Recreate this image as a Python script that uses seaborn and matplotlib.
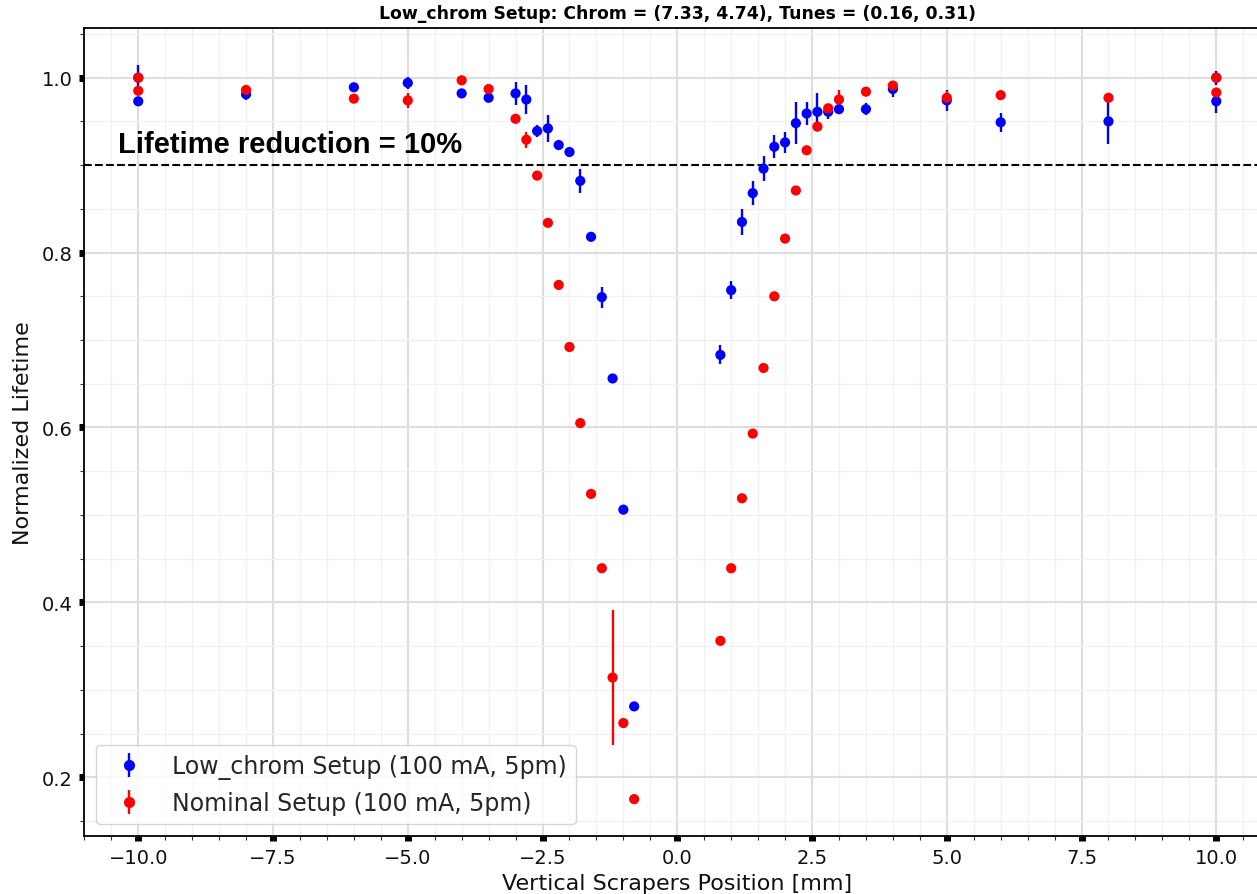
import numpy as np
import pandas as pd
import matplotlib
matplotlib.use("Agg")
import matplotlib.pyplot as plt
from matplotlib.ticker import MultipleLocator
import seaborn as sns

# Scraper positions [mm] (same scan grid for both setups; +/-10 mm measured twice)
positions = [-10, -10, -8, -6, -5, -4, -3.5, -3, -2.8, -2.6, -2.4, -2.2, -2.0, -1.8, -1.6,
             -1.4, -1.2, -1.0, -0.8,
             0.8, 1.0, 1.2, 1.4, 1.6, 1.8, 2.0, 2.2, 2.4, 2.6, 2.8, 3.0, 3.5, 4.0, 5.0,
             6.0, 8.0, 10, 10]

# Low_chrom setup: normalized lifetime and its uncertainty
lowchrom_lifetime = [0.973, 1.000, 0.981, 0.989, 0.994, 0.982, 0.977, 0.982, 0.975, 0.939,
                     0.942, 0.923, 0.915, 0.882, 0.818, 0.749, 0.656, 0.506, 0.281,
                     0.683, 0.757, 0.835, 0.868, 0.896, 0.921, 0.926, 0.948, 0.959, 0.961,
                     0.961, 0.964, 0.964, 0.987, 0.974, 0.949, 0.950, 0.973, 1.000]
lowchrom_err = [0.003, 0.015, 0.007, 0.004, 0.007, 0.005, 0.004, 0.013, 0.017, 0.007,
                0.015, 0.003, 0.003, 0.014, 0.003, 0.012, 0.003, 0.003, 0.003,
                0.011, 0.010, 0.015, 0.014, 0.014, 0.013, 0.012, 0.024, 0.013, 0.022,
                0.008, 0.006, 0.007, 0.009, 0.012, 0.011, 0.026, 0.013, 0.008]

# Nominal setup: normalized lifetime and its uncertainty
nominal_lifetime = [1.000, 0.985, 0.986, 0.976, 0.974, 0.997, 0.987, 0.953, 0.929, 0.888,
                    0.834, 0.763, 0.692, 0.605, 0.524, 0.439, 0.314, 0.262, 0.175,
                    0.356, 0.439, 0.519, 0.593, 0.668, 0.750, 0.816, 0.871, 0.917, 0.944,
                    0.965, 0.975, 0.984, 0.991, 0.977, 0.980, 0.977, 1.000, 0.983]
nominal_err = [0.004, 0.003, 0.003, 0.002, 0.009, 0.002, 0.002, 0.003, 0.009, 0.002,
               0.005, 0.002, 0.002, 0.002, 0.002, 0.002, 0.077, 0.002, 0.002,
               0.002, 0.002, 0.002, 0.002, 0.004, 0.002, 0.002, 0.002, 0.002, 0.002,
               0.004, 0.011, 0.002, 0.005, 0.008, 0.004, 0.003, 0.005, 0.002]

setup_labels = ["Low_chrom Setup (100 mA, 5pm)", "Nominal Setup (100 mA, 5pm)"]
setup_colors = ["blue", "red"]
threshold = 0.9
threshold_text = "Lifetime reduction = 10%"
title = "Low_chrom Setup: Chrom = (7.33, 4.74), Tunes = (0.16, 0.31)"

df = pd.concat([
    pd.DataFrame({"position": positions, "lifetime": lowchrom_lifetime,
                  "err": lowchrom_err, "setup": setup_labels[0]}),
    pd.DataFrame({"position": positions, "lifetime": nominal_lifetime,
                  "err": nominal_err, "setup": setup_labels[1]}),
], ignore_index=True)

sns.set_theme(style="whitegrid")
plt.rcParams["font.family"] = ["DejaVu Sans"]

fig = plt.figure(figsize=(12.57, 8.95), dpi=100)
ax = fig.add_axes([0.0671, 0.0645, 0.9434, 0.9028])
ax.set_axisbelow(True)

palette = dict(zip(setup_labels, setup_colors))

# error bars per setup (blue first, red drawn over it)
for lab, col in zip(setup_labels, setup_colors):
    sub = df[df["setup"] == lab]
    ax.errorbar(sub["position"], sub["lifetime"], yerr=sub["err"], fmt="none",
                ecolor=col, elinewidth=1.7, capsize=0, zorder=2)

sns.scatterplot(data=df, x="position", y="lifetime", hue="setup", palette=palette,
                s=54, linewidth=0, legend=False, ax=ax, zorder=3)

# legend entries in errorbar style
handles = []
for lab, col in zip(setup_labels, setup_colors):
    h = ax.errorbar([np.nan], [np.nan], yerr=[np.nan], fmt="o", color=col, ms=7,
                    elinewidth=1.7, label=lab)
    handles.append(h)

ax.axhline(threshold, color="black", ls="--", lw=1.5, zorder=1.5)
ax.text(-10.37, 0.915, threshold_text, fontsize=21, fontweight="bold",
        family=["Liberation Sans", "DejaVu Sans"], ha="left", va="baseline", color="black")

ax.set_xlim(-11, 11)
ax.set_ylim(0.1325, 1.0565)
ax.xaxis.set_major_locator(MultipleLocator(2.5))
ax.xaxis.set_minor_locator(MultipleLocator(0.5))
ax.yaxis.set_major_locator(MultipleLocator(0.2))
ax.yaxis.set_minor_locator(MultipleLocator(0.05))

ax.grid(which="major", color="#dedede", lw=1.5)
ax.grid(which="minor", color="#f0f0f0", lw=0.9)

for sp in ax.spines.values():
    sp.set_color("black")
    sp.set_linewidth(1.3)
    sp.set_visible(True)

ax.tick_params(which="major", direction="out", length=3.6, width=5, color="black",
               labelsize=14, pad=5, labelcolor="#111111", left=True, bottom=True)
ax.tick_params(which="minor", direction="out", length=2.6, width=0.8, color="#333333",
               left=True, bottom=True)

ax.set_xlabel("Vertical Scrapers Position [mm]", fontsize=16, color="#111111", labelpad=4)
ax.set_ylabel("Normalized Lifetime", fontsize=16, color="#111111", labelpad=6)
ax.set_title(title, fontsize=12.4, fontweight="bold", pad=7.5, color="black")

leg = ax.legend(handles=handles, labels=setup_labels, loc="lower left", fontsize=17,
                frameon=True, fancybox=True, framealpha=0.8, edgecolor="#cccccc",
                facecolor="white")

fig.savefig("out.png", dpi=100)
